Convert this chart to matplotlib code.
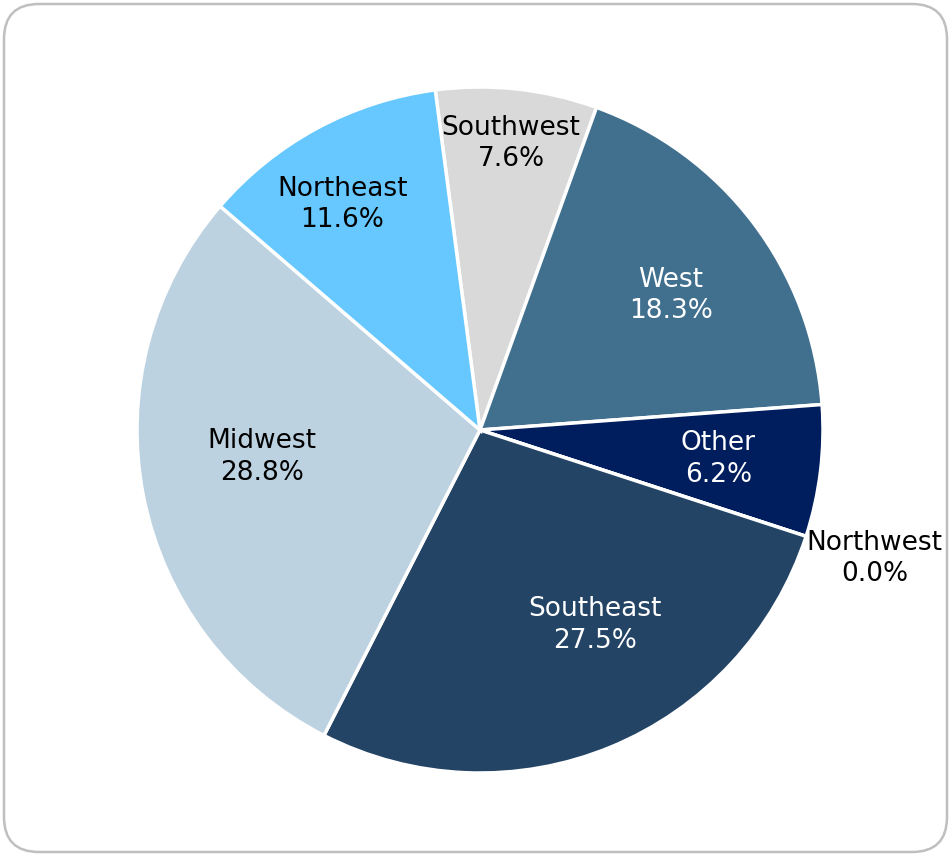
import numpy as np
import matplotlib.pyplot as plt
from matplotlib.patches import FancyBboxPatch

# regional share, clockwise from the top
regions = ['Southwest', 'West', 'Other', 'Northwest', 'Southeast', 'Midwest', 'Northeast']
shares = [7.6, 18.3, 6.2, 0.0, 27.5, 28.8, 11.6]
colors = ['#D9D9D9', '#41708F', '#001E5E', '#7F7F7F', '#244466', '#BDD2E1', '#66C8FF']
text_colors = ['black', 'white', 'white', 'black', 'white', 'black', 'black']

# where each label sits: fraction of radius, angular nudge (deg)
label_pos = [(0.84, 0), (0.68, -2), (0.70, 0), (1.21, 0), (0.66, 8), (0.64, -4), (0.77, 3)]

W, H = 951, 855
fig = plt.figure(figsize=(W / 100, H / 100), dpi=100)
ax = fig.add_axes([0, 0, 1, 1])

cx, cy, R = 480, H - 430, 343
wedges, _ = ax.pie(shares, colors=colors, startangle=97.5, counterclock=False,
                   center=(cx, cy), radius=R,
                   wedgeprops=dict(edgecolor='white', linewidth=2.5))
ax.set_xlim(0, W)
ax.set_ylim(0, H)
ax.set_aspect('equal')
ax.axis('off')

for w, name, val, tc, (rf, da) in zip(wedges, regions, shares, text_colors, label_pos):
    mid = np.deg2rad((w.theta1 + w.theta2) / 2 + da)
    if w.theta2 - w.theta1 < 1e-6:
        mid = np.deg2rad(w.theta1 + da)
    x = cx + rf * R * np.cos(mid)
    y = cy + rf * R * np.sin(mid)
    ax.text(x, y, f'{name}\n{val:.1f}%', ha='center', va='center',
            fontsize=19, color=tc, linespacing=1.28, family='DejaVu Sans')

# rounded border round the chart area
frame = FancyBboxPatch((4, 3), W - 8, H - 7, boxstyle='round,pad=0,rounding_size=35',
                       transform=ax.transData, facecolor='none',
                       edgecolor='#BFBFBF', linewidth=1.8, clip_on=False)
ax.add_patch(frame)

fig.savefig('out.png', dpi=100)
